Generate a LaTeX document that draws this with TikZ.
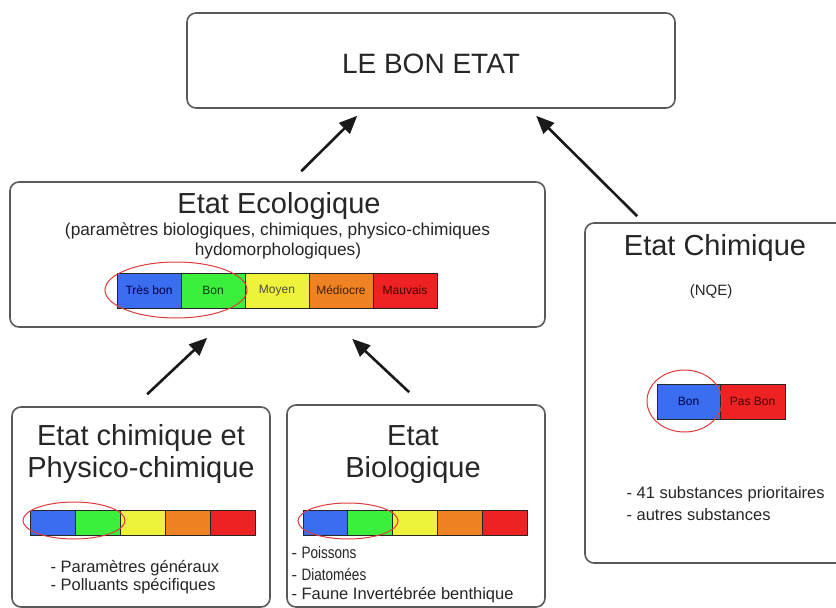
\documentclass[tikz,border=0pt]{standalone}
\usepackage{fontspec}
\setmainfont{Liberation Sans}
\usetikzlibrary{arrows.meta,shapes.geometric}
\definecolor{bxline}{HTML}{5A5A5A}
\definecolor{cblue}{HTML}{3B6DF0}
\definecolor{cgreen}{HTML}{3DEF3D}
\definecolor{cyellow}{HTML}{EEF23A}
\definecolor{corange}{HTML}{EF8324}
\definecolor{cred}{HTML}{EE2222}
\definecolor{hlred}{HTML}{E03A3A}
\begin{document}
\begin{tikzpicture}[x=1pt,y=-1pt,
  box/.style={draw=bxline, line width=1.6pt, rounded corners=9pt, fill=white, inner sep=0pt},
  arr/.style={-{Triangle[length=18pt,width=15pt]}, line width=2.6pt, black!90},
  seg/.style={draw=black!85, line width=1pt, inner sep=0pt, font=\fontsize{12}{12}\selectfont},
  hl/.style={draw=hlred, line width=1pt, ellipse, inner sep=0pt},
  title/.style={anchor=base, font=\fontsize{29}{32}\selectfont, text=black!85},
  small/.style={anchor=base west, font=\fontsize{16.5}{18}\selectfont, text=black!85},
]
\useasboundingbox[fill=white] (0,0) rectangle (836,608);

% boxes
\node[box, minimum width=488pt, minimum height=95pt] (bon) at (431,60.5) {};
\node[box, minimum width=535pt, minimum height=145pt] (ecol) at (277.5,254.5) {};
\node[box, minimum width=265pt, minimum height=340pt] (chim) at (717.5,393) {};
\node[box, minimum width=258pt, minimum height=200pt] (phys) at (141,507) {};
\node[box, minimum width=258pt, minimum height=202pt] (bio) at (416,506) {};

% titles
\node[anchor=base, font=\fontsize{28}{32}\selectfont, text=black!85] (tbon) at (431,73) {LE BON ETAT};
\node[title] (tecol) at (279,213) {Etat Ecologique};
\node[anchor=base, font=\fontsize{17.3}{18}\selectfont, text=black!85] (secol1) at (277.5,235) {(paramètres biologiques, chimiques, physico-chimiques};
\node[anchor=base, font=\fontsize{17.3}{18}\selectfont, text=black!85] (secol2) at (278,255) {hydomorphologiques)};
\node[title] (tchim) at (715,255) {Etat Chimique};
\node[anchor=base, font=\fontsize{15}{18}\selectfont, text=black!85] (nqe) at (711,295) {(NQE)};
\node[title] (tphys1) at (141,445) {Etat chimique et};
\node[title] (tphys2) at (141,477) {Physico-chimique};
\node[title] (tbio1) at (413,445) {Etat};
\node[title] (tbio2) at (413,477) {Biologique};

% ecological bar
\node[seg, fill=cblue, minimum width=64pt, minimum height=35pt, text=blue!25!black] (e1) at (149,290.5) {Très bon};
\node[seg, fill=cgreen, minimum width=64pt, minimum height=35pt, text=green!25!black] (e2) at (213,290.5) {Bon};
\node[seg, fill=cyellow, minimum width=64pt, minimum height=35pt, text=yellow!20!black] (e3) at (277,290.5) {Moyen};
\node[seg, fill=corange, minimum width=64pt, minimum height=35pt, text=orange!25!black] (e4) at (341,290.5) {Médiocre};
\node[seg, fill=cred, minimum width=64pt, minimum height=35pt, text=red!30!black] (e5) at (405,290.5) {Mauvais};
\node[hl, minimum width=142pt, minimum height=56pt] (he) at (176,290) {};

% physico-chemical bar
\node[seg, fill=cblue, minimum width=45pt, minimum height=25pt] (p1) at (52.5,522.5) {};
\node[seg, fill=cgreen, minimum width=45pt, minimum height=25pt] (p2) at (97.5,522.5) {};
\node[seg, fill=cyellow, minimum width=45pt, minimum height=25pt] (p3) at (142.5,522.5) {};
\node[seg, fill=corange, minimum width=45pt, minimum height=25pt] (p4) at (187.5,522.5) {};
\node[seg, fill=cred, minimum width=45pt, minimum height=25pt] (p5) at (232.5,522.5) {};
\node[hl, minimum width=102pt, minimum height=37pt] (hp) at (74,520.5) {};

% biological bar
\node[seg, fill=cblue, minimum width=44.8pt, minimum height=25pt] (b1) at (325.4,522.5) {};
\node[seg, fill=cgreen, minimum width=44.8pt, minimum height=25pt] (b2) at (370.2,522.5) {};
\node[seg, fill=cyellow, minimum width=44.8pt, minimum height=25pt] (b3) at (415,522.5) {};
\node[seg, fill=corange, minimum width=44.8pt, minimum height=25pt] (b4) at (459.8,522.5) {};
\node[seg, fill=cred, minimum width=44.8pt, minimum height=25pt] (b5) at (504.6,522.5) {};
\node[hl, minimum width=100pt, minimum height=36pt] (hb) at (348,521) {};

% chemical bar
\node[seg, fill=cblue, minimum width=63pt, minimum height=35pt, text=blue!25!black] (c1) at (688.5,401.5) {Bon};
\node[seg, fill=cred, minimum width=65pt, minimum height=35pt, text=red!30!black] (c2) at (752.5,401.5) {Pas Bon};
\node[hl, minimum width=75pt, minimum height=62pt] (hc) at (684.5,401) {};

% lists
\node[small] (lp1) at (47,572) {- Paramètres généraux};
\node[small] (lp2) at (47,590) {- Polluants spécifiques};
\node[small] (lb1) at (288,558) {- \scalebox{0.82}[1]{Poissons}};
\node[small] (lb2) at (288,580) {- \scalebox{0.82}[1]{Diatomées}};
\node[small] (lb3) at (288,599) {- Faune Invertébrée benthique};
\node[small] (lc1) at (623,498) {- 41 substances prioritaires};
\node[small] (lc2) at (623,520) {- autres substances};

% arrows
\draw[arr] ([xshift=292pt,yshift=10pt]ecol.north west) -- ([xshift=171pt,yshift=-7pt]bon.south west);
\draw[arr] ([xshift=53pt,yshift=6pt]chim.north west) -- ([xshift=350pt,yshift=-7pt]bon.south west);
\draw[arr] ([xshift=136pt,yshift=12pt]phys.north west) -- ([xshift=198pt,yshift=-10pt]ecol.south west);
\draw[arr] ([xshift=123pt,yshift=12pt]bio.north west) -- ([xshift=343pt,yshift=-11pt]ecol.south west);
\end{tikzpicture}
\end{document}
